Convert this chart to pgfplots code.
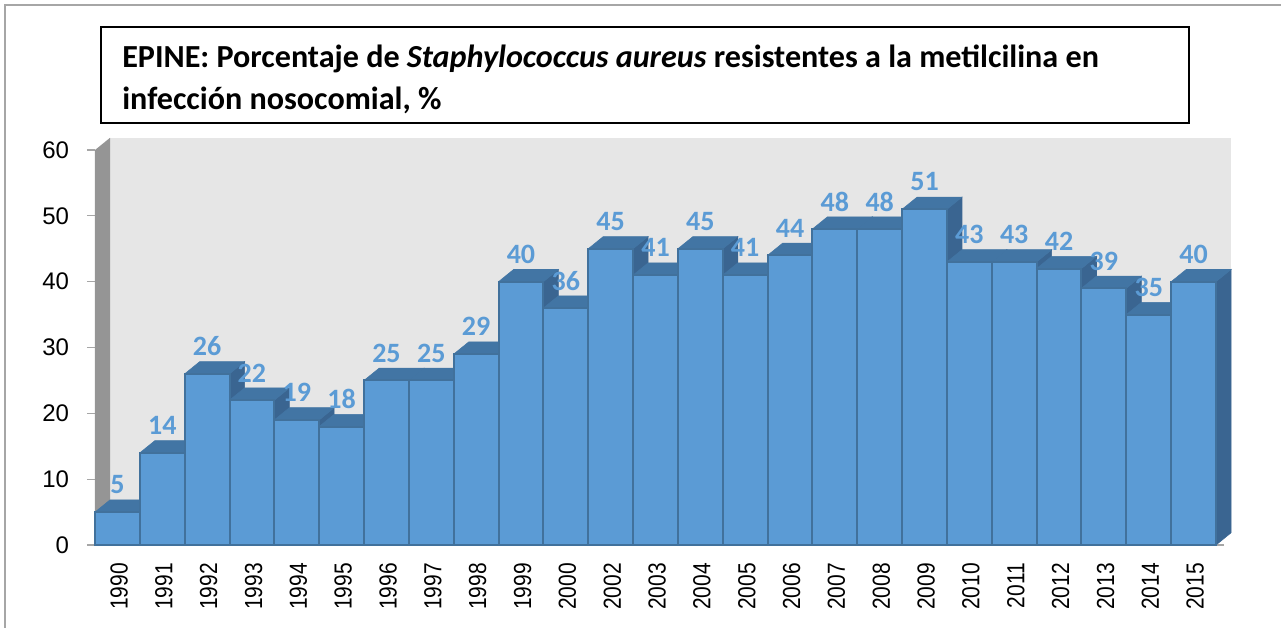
\documentclass[border=0pt]{standalone}
\usepackage{pgfplots}
\pgfplotsset{compat=1.18}
\usepackage{graphicx}
\usepackage{fontspec}
\setmainfont{Liberation Sans}
\newfontfamily\carlito{Carlito}
\definecolor{barfront}{HTML}{5B9BD5}
\definecolor{bartop}{HTML}{4275A4}
\definecolor{barside}{HTML}{3A6591}
\definecolor{baredge}{HTML}{41719C}
\definecolor{wallback}{HTML}{E6E6E6}
\definecolor{wallleft}{HTML}{959595}
\definecolor{framegray}{HTML}{A6A6A6}
\newcommand\yr[1]{\scalebox{0.85}[1]{#1}}
% one bar: #1 = left edge (category index), #2 = value
\newcommand\threedbar[2]{%
  \pgfmathsetmacro\xa{#1+1}%
  \pgfmathsetmacro\xb{#1+1.335}%
  \pgfmathsetmacro\xc{#1+0.335}%
  \pgfmathsetmacro\yb{#2+1.85}%
  \addplot[fill=barside,draw=barside,line width=0.4pt] coordinates {(\xa,0) (\xb,1.85) (\xb,\yb) (\xa,#2)} -- cycle;
  \addplot[fill=bartop,draw=bartop,line width=0.4pt] coordinates {(#1,#2) (\xa,#2) (\xb,\yb) (\xc,\yb)} -- cycle;
  \addplot[fill=barfront,draw=baredge,line width=1.5pt] coordinates {(#1,0) (\xa,0) (\xa,#2) (#1,#2)} -- cycle;
}
\begin{document}
\begin{tikzpicture}[x=0.75pt,y=0.75pt]
\path[use as bounding box] (-95,-83) rectangle (1186,545);
\draw[framegray,line width=1.1pt] (-90,-83) -- (-90,540) -- (1186,540);
\begin{axis}[
  at={(0,0)},anchor=south west,
  scale only axis,width=840.75pt,height=296.25pt,
  xmin=0,xmax=25,ymin=0,ymax=60,clip=false,
  axis line style={draw=none},
  tick align=outside,
  ytick={0,10,20,30,40,50,60},
  major tick length=6pt,
  ytick style={framegray,line width=0.9pt},
  xtick style={draw=none},
  xtick={0.5,1.5,2.5,3.5,4.5,5.5,6.5,7.5,8.5,9.5,10.5,11.5,12.5,13.5,14.5,15.5,16.5,17.5,18.5,19.5,20.5,21.5,22.5,23.5,24.5},
  xticklabels={\yr{1990},\yr{1991},\yr{1992},\yr{1993},\yr{1994},\yr{1995},\yr{1996},\yr{1997},\yr{1998},\yr{1999},\yr{2000},\yr{2002},\yr{2003},\yr{2004},\yr{2005},\yr{2006},\yr{2007},\yr{2008},\yr{2009},\yr{2010},\yr{2011},\yr{2012},\yr{2013},\yr{2014},\yr{2015}},
  /pgf/number format/assume math mode=true,
  y tick label style={font=\fontsize{18}{22}\selectfont,xshift=-10pt},
  x tick label style={font=\fontsize{18.5}{20}\selectfont,rotate=90,anchor=east,xshift=-4pt,yshift=-1.2pt},
]
\addplot[fill=wallback,draw=none] coordinates {(0.335,1.85) (25.335,1.85) (25.335,61.85) (0.335,61.85)} -- cycle;
\addplot[fill=wallleft,draw=none] coordinates {(0,0) (0.335,1.85) (0.335,61.85) (0,60)} -- cycle;
\threedbar{0}{5}
\threedbar{1}{14}
\threedbar{2}{26}
\threedbar{3}{22}
\threedbar{4}{19}
\threedbar{5}{18}
\threedbar{6}{25}
\threedbar{7}{25}
\threedbar{8}{29}
\threedbar{9}{40}
\threedbar{10}{36}
\threedbar{11}{45}
\threedbar{12}{41}
\threedbar{13}{45}
\threedbar{14}{41}
\threedbar{15}{44}
\threedbar{16}{48}
\threedbar{17}{48}
\threedbar{18}{51}
\threedbar{19}{43}
\threedbar{20}{43}
\threedbar{21}{42}
\threedbar{22}{39}
\threedbar{23}{35}
\threedbar{24}{40}
\addplot[draw=none,mark=none,
  nodes near coords,
  nodes near coords align={anchor=center},
  every node near coord/.append style={yshift=20.5pt,text=barfront,font=\carlito\bfseries\fontsize{21}{24}\selectfont}]
  coordinates {(0.5,5) (1.5,14) (2.5,26) (3.5,22) (4.5,19) (5.5,18) (6.5,25) (7.5,25) (8.5,29) (9.5,40) (10.5,36) (11.5,45) (12.5,41) (13.5,45) (14.5,41) (15.5,44) (16.5,48) (17.5,48) (18.5,51) (19.5,43) (20.5,43) (21.5,42) (22.5,39) (23.5,35) (24.5,40)};
\end{axis}
\draw[black,line width=1.5pt,fill=white] (6,422) rectangle (1094,518);
\node[anchor=base west,inner sep=0pt,font=\carlito\bfseries\fontsize{24.1}{28}\selectfont] at (27,477) {EPINE: Porcentaje de \textit{Staphylococcus aureus} resistentes a la metilcilina en};
\node[anchor=base west,inner sep=0pt,font=\carlito\bfseries\fontsize{24.1}{28}\selectfont] at (27,435) {infección nosocomial, \%};
\end{tikzpicture}
\end{document}
